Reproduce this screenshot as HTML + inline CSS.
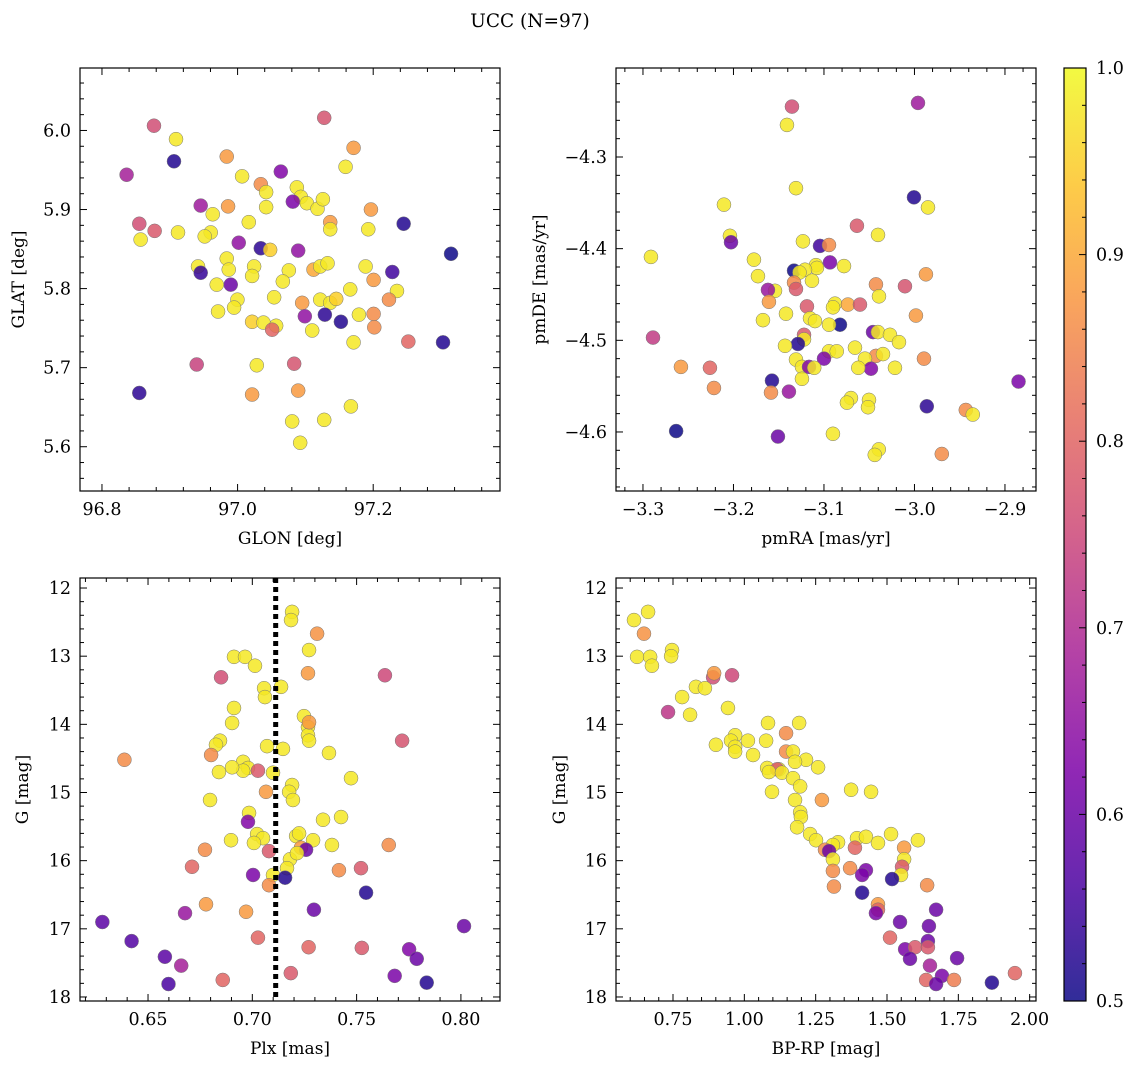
<!DOCTYPE html>
<html><head><meta charset="utf-8"><style>
body{margin:0;background:#fff;}
svg{display:block;font-family:"DejaVu Serif","Liberation Serif",serif;}
</style></head><body>
<svg id="fig" width="1136" height="1068" viewBox="0 0 1136 1068" xmlns="http://www.w3.org/2000/svg">
<text x="530" y="27" font-size="18.5" text-anchor="middle">UCC (N=97)</text>
<defs>
<linearGradient id="cmap" x1="0" y1="1" x2="0" y2="0">
<stop offset="0" stop-color="#0d0887"/><stop offset="0.125" stop-color="#4c02a1"/><stop offset="0.25" stop-color="#7e03a8"/><stop offset="0.375" stop-color="#a82296"/><stop offset="0.5" stop-color="#cc4778"/><stop offset="0.625" stop-color="#e56b5d"/><stop offset="0.75" stop-color="#f89540"/><stop offset="0.875" stop-color="#fdc328"/><stop offset="1" stop-color="#f0f921"/>
</linearGradient>
</defs>
</svg>
<script>
// Panel 1: GLON / GLAT (raw read values; x recalibrated below)
const p1LonRead=[96.798,96.839,96.872,96.869,97.094,97.138,97.126,96.948,96.971,97.029,96.999,97.007,97.053,97.059,97.047,97.068,97.084,96.950,97.007,96.909,96.927,97.164,96.981,96.817,97.103,97.213,96.840,96.875,96.924,97.103,97.160,96.915,96.819,96.966,96.999,97.013,97.055,97.284,96.948,96.989,96.905,96.951,96.909,96.986,97.041,97.078,97.088,97.099,97.156,97.196,97.032,97.168,96.954,96.933,97.203,97.133,97.191,96.964,97.019,97.061,97.088,97.103,96.959,96.935,97.146,97.168,97.065,97.095,97.119,96.986,97.003,97.022,97.169,97.076,97.016,97.138,97.220,97.272,96.903,96.993,97.049,96.817,96.986,97.055,97.046,97.094,97.134,97.058,97.092,97.112];
const p1Lat=[5.944,6.006,5.989,5.961,6.016,5.978,5.954,5.967,5.942,5.948,5.932,5.922,5.928,5.916,5.910,5.908,5.901,5.904,5.903,5.905,5.894,5.900,5.884,5.882,5.884,5.882,5.873,5.871,5.871,5.875,5.875,5.866,5.862,5.858,5.851,5.849,5.848,5.844,5.838,5.828,5.828,5.824,5.820,5.816,5.823,5.824,5.828,5.832,5.828,5.821,5.809,5.811,5.805,5.805,5.797,5.799,5.786,5.786,5.789,5.782,5.786,5.782,5.776,5.771,5.767,5.768,5.765,5.767,5.758,5.758,5.757,5.753,5.751,5.747,5.748,5.732,5.733,5.732,5.704,5.703,5.705,5.668,5.666,5.671,5.632,5.634,5.651,5.605,5.913,5.787];
const p1C=[0.68,0.76,0.98,0.52,0.77,0.88,0.98,0.88,0.98,0.63,0.86,0.98,0.98,0.98,0.62,0.98,0.98,0.88,0.98,0.67,0.98,0.88,0.98,0.76,0.88,0.52,0.78,0.98,0.98,0.98,0.98,0.98,0.98,0.65,0.53,0.95,0.65,0.5,0.98,0.98,0.98,0.98,0.54,0.98,0.98,0.9,0.98,0.98,0.98,0.55,0.98,0.88,0.6,0.98,0.98,0.98,0.86,0.98,0.98,0.88,0.98,0.98,0.98,0.98,0.98,0.86,0.65,0.53,0.52,0.95,0.98,0.98,0.86,0.98,0.8,0.98,0.8,0.52,0.74,0.98,0.77,0.53,0.88,0.88,0.98,0.98,0.98,0.98,0.98,0.95];
// Panel 2: pmRA / pmDE
const p2RaRead=[-3.0061,-3.1347,-3.1398,-3.1306,-3.2041,-2.9959,-3.0102,-3.198,-3.1969,-3.0684,-3.0469,-3.1235,-3.1061,-3.0969,-3.2786,-3.1735,-3.1102,-3.0959,-3.0816,-3.1092,-3.1326,-3.1214,-3.1694,-3.127,-2.998,-3.1143,-3.1326,-3.049,-3.0194,-3.152,-3.1592,-3.1306,-3.0459,-3.1582,-3.0908,-3.0776,-3.0653,-3.1194,-3.0928,-3.1408,-3.1163,-3.1643,-3.1112,-3.0082,-3.0857,-3.0969,-3.1224,-3.052,-3.047,-3.1224,-3.0347,-3.2765,-3.1286,-3.0255,-3.1418,-3.0704,-3.0969,-3.089,-3.049,-3.0418,-3.0,-3.102,-3.1306,-3.0602,-3.1245,-3.1173,-3.112,-3.0296,-3.248,-3.2184,-3.0541,-3.1245,-3.1551,-2.9035,-3.2143,-3.1561,-3.1378,-3.067,-3.0745,-3.0786,-3.0561,-3.0571,-2.9971,-2.9573,-2.9502,-3.149,-3.0929,-3.2529,-3.0461,-3.0502,-2.9818];
const p2De=[-4.241,-4.245,-4.265,-4.334,-4.352,-4.355,-4.344,-4.386,-4.393,-4.375,-4.385,-4.392,-4.397,-4.396,-4.409,-4.412,-4.418,-4.415,-4.419,-4.421,-4.424,-4.423,-4.430,-4.426,-4.428,-4.435,-4.437,-4.439,-4.441,-4.446,-4.445,-4.444,-4.452,-4.458,-4.460,-4.461,-4.461,-4.463,-4.464,-4.471,-4.476,-4.478,-4.479,-4.473,-4.483,-4.483,-4.494,-4.491,-4.491,-4.499,-4.494,-4.497,-4.504,-4.502,-4.506,-4.508,-4.512,-4.512,-4.517,-4.515,-4.520,-4.520,-4.521,-4.520,-4.529,-4.529,-4.530,-4.530,-4.529,-4.530,-4.531,-4.542,-4.544,-4.545,-4.552,-4.557,-4.556,-4.530,-4.563,-4.568,-4.565,-4.573,-4.572,-4.576,-4.581,-4.605,-4.602,-4.599,-4.619,-4.625,-4.624];
const p2C=[0.67,0.76,0.98,0.98,0.98,0.98,0.52,0.98,0.6,0.78,0.98,0.98,0.55,0.86,0.98,0.98,0.98,0.62,0.98,0.98,0.5,0.98,0.98,0.98,0.88,0.98,0.86,0.86,0.77,0.98,0.66,0.78,0.98,0.88,0.98,0.9,0.78,0.78,0.98,0.98,0.98,0.98,0.98,0.88,0.5,0.98,0.78,0.6,0.98,0.98,0.98,0.73,0.52,0.98,0.98,0.98,0.98,0.98,0.86,0.98,0.86,0.62,0.98,0.98,0.98,0.63,0.98,0.98,0.88,0.8,0.63,0.98,0.52,0.62,0.86,0.86,0.66,0.98,0.98,0.98,0.98,0.98,0.53,0.86,0.98,0.6,0.98,0.5,0.98,0.98,0.86];
// Panel 3: Plx / G
const p3PlxRead=[0.7222,0.7217,0.7340,0.7302,0.6948,0.7,0.7047,0.6887,0.7297,0.7170,0.7090,0.7094,0.7660,0.6948,0.6939,0.7278,0.7297,0.7297,0.7302,0.7302,0.7741,0.6882,0.6863,0.7104,0.7179,0.7396,0.6840,0.6431,0.6991,0.7014,0.6991,0.6939,0.7061,0.7132,0.6877,0.7500,0.7222,0.7208,0.7099,0.6835,0.7226,0.7019,0.7014,0.7453,0.7368,0.7057,0.7085,0.7241,0.7255,0.7321,0.6934,0.7042,0.7410,0.7678,0.6811,0.7264,0.7288,0.7113,0.7212,0.7245,0.6750,0.7547,0.7198,0.7443,0.7132,0.7038,0.7189,0.7113,0.7571,0.6816,0.7325,0.6717,0.7005,0.6327,0.8033,0.6465,0.7061,0.7300,0.7551,0.7774,0.6622,0.7810,0.6699,0.7216,0.7706,0.6639,0.6895,0.7857];
const p3G=[12.35,12.47,12.67,12.91,13.01,13.01,13.14,13.31,13.25,13.45,13.47,13.60,13.28,13.76,13.98,13.88,14.04,14.16,14.24,13.97,14.24,14.24,14.30,14.32,14.36,14.42,14.45,14.52,14.55,14.64,14.68,14.63,14.68,14.71,14.70,14.79,14.89,14.99,14.99,15.11,15.11,15.30,15.43,15.36,15.40,15.61,15.67,15.64,15.60,15.70,15.70,15.74,15.77,15.77,15.84,15.81,15.84,15.86,15.98,15.89,16.09,16.11,16.11,16.14,16.21,16.21,16.25,16.36,16.47,16.64,16.72,16.77,16.75,16.90,16.96,17.18,17.13,17.27,17.28,17.30,17.41,17.44,17.54,17.65,17.69,17.81,17.75,17.79];
const p3C=[0.98,0.98,0.87,0.98,0.98,0.98,0.98,0.76,0.88,0.98,0.98,0.98,0.75,0.98,0.98,0.98,0.98,0.98,0.98,0.88,0.77,0.98,0.98,0.98,0.98,0.98,0.86,0.86,0.98,0.98,0.98,0.98,0.78,0.98,0.98,0.98,0.98,0.98,0.88,0.98,0.98,0.98,0.63,0.98,0.98,0.98,0.98,0.98,0.98,0.98,0.98,0.98,0.98,0.86,0.86,0.88,0.6,0.78,0.98,0.98,0.8,0.78,0.98,0.86,0.98,0.62,0.52,0.86,0.52,0.88,0.6,0.66,0.88,0.58,0.6,0.57,0.8,0.8,0.78,0.63,0.58,0.6,0.68,0.78,0.62,0.56,0.8,0.52];
const p3Line=[0.7112];
// Panel 4: BP-RP / G
const p4BprpRead=[0.594,0.539,0.578,0.6875,0.684,0.551,0.602,0.609,0.922,0.848,0.852,0.781,0.816,0.727,0.672,0.758,0.906,1.0625,1.184,1.133,0.934,0.984,0.918,1.055,0.934,0.859,0.934,1.133,1.16,1.004,1.211,1.168,1.059,1.105,1.098,1.258,1.066,1.117,1.160,1.188,1.168,1.387,1.465,1.078,1.273,1.188,1.191,1.176,1.227,1.543,1.410,1.445,1.648,1.250,1.336,1.316,1.492,1.594,1.285,1.402,1.301,1.316,1.594,1.586,1.445,1.383,1.316,1.582,1.430,1.547,1.684,1.320,1.430,1.492,1.492,1.484,1.719,1.578,1.691,1.539,1.687,1.598,1.637,1.687,1.801,1.617,1.695,2.027,1.742,1.680,1.789,1.719,1.937];
const p4G=[12.35,12.47,12.67,12.91,13.0,13.01,13.01,13.14,13.28,13.31,13.25,13.45,13.47,13.60,13.82,13.86,13.76,13.98,13.98,14.13,14.16,14.24,14.24,14.24,14.33,14.30,14.40,14.40,14.40,14.45,14.52,14.55,14.64,14.66,14.66,14.63,14.70,14.71,14.79,14.91,15.11,14.96,14.99,14.99,15.11,15.29,15.36,15.51,15.61,15.61,15.67,15.65,15.70,15.70,15.73,15.77,15.74,15.81,15.84,15.81,15.86,15.98,15.98,16.09,16.14,16.11,16.15,16.21,16.21,16.27,16.36,16.38,16.47,16.64,16.72,16.77,16.72,16.90,16.96,17.13,17.18,17.30,17.27,17.27,17.43,17.44,17.54,17.65,17.69,17.75,17.75,17.81,17.79];
const p4C=[0.98,0.98,0.87,0.98,0.98,0.98,0.98,0.98,0.75,0.76,0.88,0.98,0.98,0.98,0.72,0.98,0.98,0.98,0.98,0.86,0.98,0.98,0.98,0.98,0.98,0.98,0.98,0.86,0.98,0.98,0.98,0.98,0.98,0.98,0.78,0.98,0.98,0.98,0.98,0.98,0.98,0.98,0.98,0.98,0.88,0.98,0.98,0.98,0.98,0.98,0.98,0.98,0.98,0.98,0.98,0.98,0.98,0.88,0.86,0.8,0.6,0.98,0.98,0.78,0.62,0.86,0.86,0.98,0.62,0.52,0.86,0.86,0.52,0.88,0.8,0.62,0.6,0.6,0.6,0.8,0.6,0.62,0.78,0.78,0.6,0.6,0.68,0.8,0.62,0.8,0.84,0.6,0.52];
// recalibration of x readings (readings were taken against misread tick positions)
const p1Lon=p1LonRead.map(v=>96.8383+(v-96.8)*0.98451);
const p2Ra=p2RaRead.map(v=>-3.31436+(v+3.3)*1.08287);
const p3Plx=p3PlxRead.map(v=>0.645686+(v-0.65)*1.0163);
const p4Bprp=p4BprpRead.map(v=>0.80258+(v-0.75)*0.8973);

const NS='http://www.w3.org/2000/svg';
const svg=document.getElementById('fig');
function mk(tag,attrs,parent){const e=document.createElementNS(NS,tag);for(const k in attrs)e.setAttribute(k,attrs[k]);(parent||svg).appendChild(e);return e;}
const stops=[[0,[13,8,135]],[0.125,[76,2,161]],[0.25,[126,3,168]],[0.375,[168,34,150]],[0.5,[204,71,120]],[0.625,[229,107,93]],[0.75,[248,149,64]],[0.875,[253,195,40]],[1,[240,249,33]]];
function cmap(v){let t=Math.max(0,Math.min(1,(v-0.5)/0.5));for(let i=1;i<stops.length;i++){if(t<=stops[i][0]){const a=stops[i-1],b=stops[i];const f=(t-a[0])/(b[0]-a[0]);const c=a[1].map((x,j)=>Math.round(x+(b[1][j]-x)*f));return 'rgb('+c.join(',')+')';}}return 'rgb(240,249,33)';}
function fmt(v,d){const s=v.toFixed(d);return s.replace('-','\u2212');}

function panel(cfg){
  const g=mk('g',{});
  
  
  const L=cfg.x0,R=cfg.x1,T=cfg.y0,B=cfg.y1;
  const sx=v=>L+(v-cfg.xd[0])/(cfg.xd[1]-cfg.xd[0])*(R-L);
  const sy=cfg.yinv?(v=>T+(v-cfg.yd[0])/(cfg.yd[1]-cfg.yd[0])*(B-T)):(v=>B-(v-cfg.yd[0])/(cfg.yd[1]-cfg.yd[0])*(B-T));
  const pts=mk('g',{},g);
  
  
  for(let i=0;i<cfg.xs.length;i++){
    const c=mk('circle',{cx:sx(cfg.xs[i]),cy:sy(cfg.ys[i]),r:7,fill:cmap(cfg.cs[i]),'fill-opacity':0.85,stroke:'#777','stroke-width':0.5},pts);
    
    
  }
  if(cfg.vline){for(const v of cfg.vline){const l=mk('line',{x1:sx(v),x2:sx(v),y1:T,y2:B,stroke:'#000','stroke-width':5,'stroke-dasharray':'5,4'},g);}}
  const fr=mk('rect',{x:L,y:T,width:R-L,height:B-T,fill:'none',stroke:'#000','stroke-width':1.2},g);
  
  
  const eps=1e-9;
  let start=Math.ceil(cfg.xd[0]/cfg.xmin-eps);
  for(let k=start;k*cfg.xmin<=cfg.xd[1]+eps;k++){
    const v=k*cfg.xmin;const px=sx(v);
    const major=Math.abs(v/cfg.xmaj-Math.round(v/cfg.xmaj))<1e-6;
    const len=major?7:4;
    mk('line',{x1:px,x2:px,y1:B,y2:B-len,stroke:'#000','stroke-width':1},g);
    mk('line',{x1:px,x2:px,y1:T,y2:T+len,stroke:'#000','stroke-width':1},g);
    if(major){const t=mk('text',{x:px,y:B+24,'font-size':17.5,'text-anchor':'middle'},g);t.textContent=fmt(v,cfg.xdec);}
  }
  start=Math.ceil(cfg.yd[0]/cfg.ymin-eps);
  for(let k=start;k*cfg.ymin<=cfg.yd[1]+eps;k++){
    const v=k*cfg.ymin;const py=sy(v);
    const major=Math.abs(v/cfg.ymaj-Math.round(v/cfg.ymaj))<1e-6;
    const len=major?7:4;
    mk('line',{x1:L,x2:L+len,y1:py,y2:py,stroke:'#000','stroke-width':1},g);
    mk('line',{x1:R,x2:R-len,y1:py,y2:py,stroke:'#000','stroke-width':1},g);
    if(major){const t=mk('text',{x:L-9,y:py+6,'font-size':17.5,'text-anchor':'end'},g);t.textContent=fmt(v,cfg.ydec);}
  }
  const xl=mk('text',{x:(L+R)/2,y:B+53,'font-size':17,'text-anchor':'middle'},g);
  xl.textContent=cfg.xlabel;
  
  
  const yx=cfg.ylx,yy=(T+B)/2;
  const yl=mk('text',{x:yx,y:yy,'font-size':17,'text-anchor':'middle',transform:'rotate(-90 '+yx+' '+yy+')'},g);
  yl.textContent=cfg.ylabel;
  
  
}
panel({name:'glon-glat-panel',x0:80,x1:500,y0:68,y1:491,xd:[96.7676,97.387],yd:[5.544,6.079],xmaj:0.2,xmin:0.04,ymaj:0.1,ymin:0.02,xdec:1,ydec:1,xs:p1Lon,ys:p1Lat,cs:p1C,xlabel:'GLON [deg]',ylabel:'GLAT [deg]',ylx:24});
panel({name:'proper-motion-panel',x0:616,x1:1036,y0:68,y1:491,xd:[-3.3298,-2.8657],yd:[-4.6644,-4.2029],xmaj:0.1,xmin:0.02,ymaj:0.1,ymin:0.02,xdec:1,ydec:1,xs:p2Ra,ys:p2De,cs:p2C,xlabel:'pmRA [mas/yr]',ylabel:'pmDE [mas/yr]',ylx:545});
panel({name:'plx-g-panel',x0:80,x1:500,y0:578,y1:1001,xd:[0.61739,0.81874],yd:[11.853,18.059],yinv:true,xmaj:0.05,xmin:0.01,ymaj:1,ymin:0.2,xdec:2,ydec:0,xs:p3Plx,ys:p3G,cs:p3C,vline:p3Line,xlabel:'Plx [mas]',ylabel:'G [mag]',ylx:28});
panel({name:'cmd-panel',x0:616,x1:1036,y0:578,y1:1001,xd:[0.5502,2.0222],yd:[11.853,18.059],yinv:true,xmaj:0.25,xmin:0.05,ymaj:1,ymin:0.2,xdec:2,ydec:0,xs:p4Bprp,ys:p4G,cs:p4C,xlabel:'BP-RP [mag]',ylabel:'G [mag]',ylx:565});
// colorbar
const cbT=68,cbB=1001,cbL=1064,cbR=1086;
const cb=mk('g',{});


mk('rect',{x:cbL,y:cbT,width:cbR-cbL,height:cbB-cbT,fill:'url(#cmap)','fill-opacity':0.85},cb);
mk('rect',{x:cbL,y:cbT,width:cbR-cbL,height:cbB-cbT,fill:'none',stroke:'#000','stroke-width':1.2},cb);
for(let k=25;k<=50;k++){const v=k*0.02;const py=cbB-(v-0.5)/0.5*(cbB-cbT);const major=k%5===0;
  mk('line',{x1:cbR,x2:cbR-(major?7:4),y1:py,y2:py,stroke:'#000','stroke-width':1},cb);
  if(major){const t=mk('text',{x:cbR+10,y:py+6,'font-size':17.5},cb);t.textContent=v.toFixed(1);}}
</script>
</body></html>
